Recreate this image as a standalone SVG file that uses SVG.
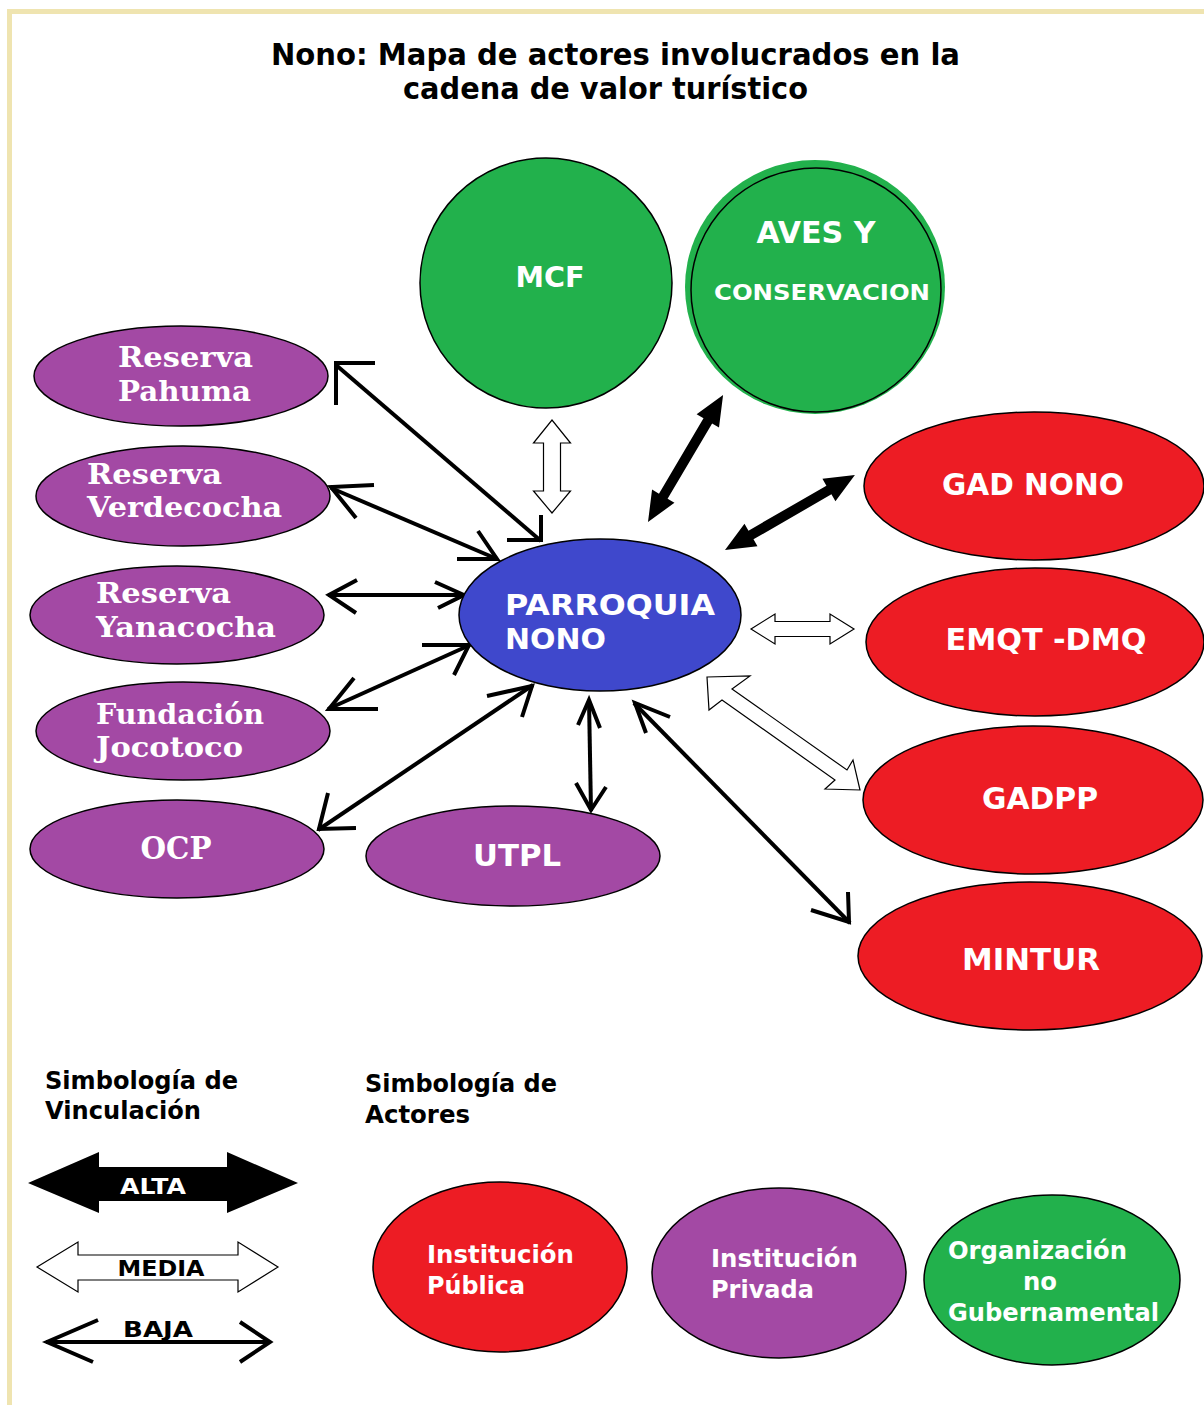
<svg xmlns="http://www.w3.org/2000/svg" width="1204" height="1405" viewBox="0 0 1204 1405">
<style>
.n{stroke:#000;stroke-width:1.5}
.g{fill:#22b14c}.p{fill:#a349a4}.r{fill:#ed1c24}.b{fill:#3f48cc}
.t{font-family:"DejaVu Sans","Liberation Sans",sans-serif;font-weight:bold;fill:#fff}
.s{font-family:"DejaVu Serif","Liberation Serif",serif;font-weight:bold;fill:#fff;font-size:28px}
.k{font-family:"DejaVu Sans","Liberation Sans",sans-serif;font-weight:bold;fill:#000}
.lo{fill:none;stroke:#000;stroke-width:4}
.alta{fill:#000}
.media{fill:#fff;stroke:#000;stroke-width:1.2}
</style>
<rect width="1204" height="1405" fill="#fff"/>
<path d="M9.5,1405 V11.5 H1204" fill="none" stroke="#efe4b0" stroke-width="5"/>

<g id="title">
<text class="k" x="615.5" y="65" font-size="30" text-anchor="middle" textLength="689" lengthAdjust="spacingAndGlyphs">Nono: Mapa de actores involucrados en la</text>
<text class="k" x="605.5" y="99" font-size="30" text-anchor="middle" textLength="405" lengthAdjust="spacingAndGlyphs">cadena de valor turístico</text>
</g>

<g id="connectors">
<line class="lo" x1="336" y1="365" x2="541" y2="541"/>
<polyline class="lo" points="375,363 336,363 336,405"/>
<polyline class="lo" points="541,515 541,540 507,540"/>
<line class="lo" x1="331" y1="488" x2="497" y2="559"/>
<polyline class="lo" points="374,485 331,487 356,518"/>
<polyline class="lo" points="457,559 497,559 478,531"/>
<line class="lo" x1="328" y1="595" x2="465" y2="595"/>
<polyline class="lo" points="357,580 329,595 356,613"/>
<polyline class="lo" points="435,582 464,595 438,608"/>
<line class="lo" x1="328" y1="709" x2="470" y2="645"/>
<polyline class="lo" points="378,709 329,709 354,678"/>
<polyline class="lo" points="422,645 469,645 454,675"/>
<line class="lo" x1="318" y1="830" x2="533" y2="685"/>
<polyline class="lo" points="356,828 319,829 328,793"/>
<polyline class="lo" points="487,696 532,686 522,717"/>
<line class="lo" x1="589" y1="700" x2="591" y2="811"/>
<polyline class="lo" points="578,725 589,700 600,728"/>
<polyline class="lo" points="576,783 591,810 606,787"/>
<line class="lo" x1="634" y1="703" x2="850" y2="923"/>
<polyline class="lo" points="670,717 635,703 646,733"/>
<polyline class="lo" points="848,892 849,922 811,910"/>
<polygon class="alta" transform="translate(648,522) rotate(-59.4)" points="0,0 30,-13 30,-5 117.5,-5 117.5,-13 147.5,0 117.5,13 117.5,5 30,5 30,13"/>
<polygon class="alta" transform="translate(725,550) rotate(-30)" points="0,0 30,-13 30,-5 120,-5 120,-13 150,0 120,13 120,5 30,5 30,13"/>
<polygon class="media" transform="translate(552,513) rotate(-90)" points="0,0 22,-18.5 22,-8.5 70,-8.5 70,-18.5 93,0 70,18.5 70,8.5 22,8.5 22,18.5"/>
<polygon class="media" transform="translate(751,629)" points="0,0 24,-15 24,-7.5 79,-7.5 79,-15 103,0 79,15 79,7.5 24,7.5 24,15"/>
<polygon class="media" points="707,677 750,676 732,689 847,770 853,760 860,790 825,789 835,780 722,700 709,710"/>
</g>

<g id="mcf">
<ellipse class="n g" cx="546" cy="283" rx="126" ry="125"/>
<text class="t" x="550" y="287" font-size="29" text-anchor="middle" textLength="69" lengthAdjust="spacingAndGlyphs">MCF</text>
</g>
<g id="aves">
<ellipse class="g" cx="815" cy="287" rx="130" ry="127"/>
<ellipse class="n g" cx="816" cy="290" rx="125" ry="122"/>
<text class="t" x="816" y="243" font-size="30" text-anchor="middle" textLength="119" lengthAdjust="spacingAndGlyphs">AVES Y</text>
<text class="t" x="822" y="300" font-size="22" text-anchor="middle" textLength="216" lengthAdjust="spacingAndGlyphs">CONSERVACION</text>
</g>

<g id="pahuma">
<ellipse class="n p" cx="181" cy="376" rx="147" ry="50"/>
<text class="s" x="118" y="367" textLength="135" lengthAdjust="spacingAndGlyphs">Reserva</text>
<text class="s" x="118" y="401" textLength="133" lengthAdjust="spacingAndGlyphs">Pahuma</text>
</g>
<g id="verdecocha">
<ellipse class="n p" cx="183" cy="496" rx="147" ry="50"/>
<text class="s" x="87" y="484" textLength="135" lengthAdjust="spacingAndGlyphs">Reserva</text>
<text class="s" x="87" y="517" textLength="195" lengthAdjust="spacingAndGlyphs">Verdecocha</text>
</g>
<g id="yanacocha">
<ellipse class="n p" cx="177" cy="615" rx="147" ry="49"/>
<text class="s" x="96" y="603" textLength="135" lengthAdjust="spacingAndGlyphs">Reserva</text>
<text class="s" x="96" y="637" textLength="180" lengthAdjust="spacingAndGlyphs">Yanacocha</text>
</g>
<g id="jocotoco">
<ellipse class="n p" cx="183" cy="731" rx="147" ry="49"/>
<text class="s" x="96" y="724" textLength="168" lengthAdjust="spacingAndGlyphs">Fundación</text>
<text class="s" x="96" y="757" textLength="147" lengthAdjust="spacingAndGlyphs">Jocotoco</text>
</g>
<g id="ocp">
<ellipse class="n p" cx="177" cy="849" rx="147" ry="49"/>
<text class="s" x="176" y="859" font-size="31" text-anchor="middle" textLength="71" lengthAdjust="spacingAndGlyphs" style="font-size:31px">OCP</text>
</g>
<g id="utpl">
<ellipse class="n p" cx="513" cy="856" rx="147" ry="50"/>
<text class="t" x="517" y="866" font-size="30" text-anchor="middle" textLength="88" lengthAdjust="spacingAndGlyphs">UTPL</text>
</g>

<g id="parroquia">
<ellipse class="n b" cx="600" cy="615" rx="141" ry="76"/>
<text class="t" x="505" y="615" font-size="29" textLength="210" lengthAdjust="spacingAndGlyphs">PARROQUIA</text>
<text class="t" x="505" y="649" font-size="29" textLength="101" lengthAdjust="spacingAndGlyphs">NONO</text>
</g>

<g id="gadnono">
<ellipse class="n r" cx="1034" cy="486" rx="170" ry="74"/>
<text class="t" x="1033" y="495" font-size="30" text-anchor="middle" textLength="182" lengthAdjust="spacingAndGlyphs">GAD NONO</text>
</g>
<g id="emqt">
<ellipse class="n r" cx="1035" cy="642" rx="169" ry="74"/>
<text class="t" x="1046" y="650" font-size="30" text-anchor="middle" textLength="201" lengthAdjust="spacingAndGlyphs">EMQT -DMQ</text>
</g>
<g id="gadpp">
<ellipse class="n r" cx="1033" cy="800" rx="170" ry="74"/>
<text class="t" x="1040" y="809" font-size="30" text-anchor="middle" textLength="116" lengthAdjust="spacingAndGlyphs">GADPP</text>
</g>
<g id="mintur">
<ellipse class="n r" cx="1030" cy="956" rx="172" ry="74"/>
<text class="t" x="1031" y="970" font-size="30" text-anchor="middle" textLength="138" lengthAdjust="spacingAndGlyphs">MINTUR</text>
</g>

<g id="legend-vinculacion">
<text class="k" x="45" y="1089" font-size="24" textLength="193" lengthAdjust="spacingAndGlyphs">Simbología de</text>
<text class="k" x="45" y="1119" font-size="24" textLength="156" lengthAdjust="spacingAndGlyphs">Vinculación</text>
<polygon class="alta" points="28,1183 99,1152 99,1167 227,1167 227,1152 298,1183 227,1213 227,1201 99,1201 99,1213"/>
<text class="t" x="153" y="1194" font-size="22" text-anchor="middle" textLength="66" lengthAdjust="spacingAndGlyphs">ALTA</text>
<polygon class="media" points="37,1267 78,1242 78,1255 238,1255 238,1242 278,1267 238,1292 238,1280 78,1280 78,1292"/>
<text class="k" x="161" y="1276" font-size="22" text-anchor="middle" textLength="87" lengthAdjust="spacingAndGlyphs">MEDIA</text>
<line class="lo" x1="46" y1="1342" x2="270" y2="1342" stroke-width="5"/>
<polyline class="lo" points="98,1320 47,1342 93,1362" stroke-width="5"/>
<polyline class="lo" points="240,1322 270,1342 240,1362" stroke-width="5"/>
<text class="k" x="158" y="1337" font-size="22" text-anchor="middle" textLength="70" lengthAdjust="spacingAndGlyphs">BAJA</text>
</g>

<g id="legend-actores">
<text class="k" x="365" y="1092" font-size="24" textLength="192" lengthAdjust="spacingAndGlyphs">Simbología de</text>
<text class="k" x="365" y="1123" font-size="24" textLength="105" lengthAdjust="spacingAndGlyphs">Actores</text>
</g>
<g id="publica">
<ellipse class="n r" cx="500" cy="1267" rx="127" ry="85"/>
<text class="t" x="427" y="1263" font-size="24" textLength="147" lengthAdjust="spacingAndGlyphs">Institución</text>
<text class="t" x="427" y="1294" font-size="24" textLength="98" lengthAdjust="spacingAndGlyphs">Pública</text>
</g>
<g id="privada">
<ellipse class="n p" cx="779" cy="1273" rx="127" ry="85"/>
<text class="t" x="711" y="1267" font-size="24" textLength="147" lengthAdjust="spacingAndGlyphs">Institución</text>
<text class="t" x="711" y="1298" font-size="24" textLength="103" lengthAdjust="spacingAndGlyphs">Privada</text>
</g>
<g id="ong">
<ellipse class="n g" cx="1052" cy="1280" rx="128" ry="85"/>
<text class="t" x="948" y="1259" font-size="24" textLength="179" lengthAdjust="spacingAndGlyphs">Organización</text>
<text class="t" x="1040" y="1290" font-size="24" text-anchor="middle" textLength="34" lengthAdjust="spacingAndGlyphs">no</text>
<text class="t" x="948" y="1321" font-size="24" textLength="211" lengthAdjust="spacingAndGlyphs">Gubernamental</text>
</g>
</svg>
